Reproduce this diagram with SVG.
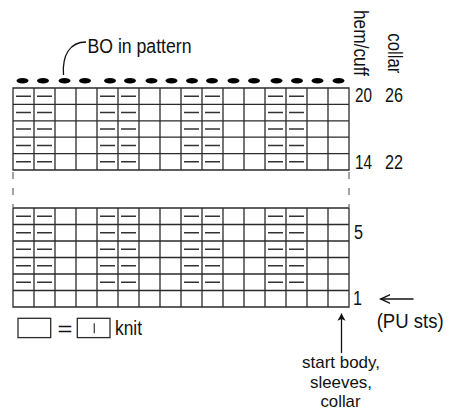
<svg xmlns="http://www.w3.org/2000/svg" width="452" height="410" viewBox="0 0 452 410">
<style>
.grid{fill:none;stroke:#2b2b2b;stroke-width:1.3}
.purl{fill:none;stroke:#333;stroke-width:1.5}
.brk{fill:none;stroke:#666;stroke-width:1.2;stroke-dasharray:7 9}
.bo{fill:#000}
text{font-family:"Liberation Sans",Arial,sans-serif;font-size:19.5px;fill:#111}
text.stack{font-size:17px}
.ln{fill:none;stroke:#111;stroke-width:1.3}
</style>
<defs>
<marker id="open" viewBox="0 0 10 10" refX="9" refY="5" markerWidth="11" markerHeight="11" markerUnits="userSpaceOnUse" orient="auto">
<path d="M0 1 L9 5 L0 9" fill="none" stroke="#111" stroke-width="1.3"/>
</marker>
<marker id="solid" viewBox="0 0 8 10" refX="8" refY="5" markerWidth="8" markerHeight="9" markerUnits="userSpaceOnUse" orient="auto">
<path d="M0 0.5 L8 5 L0 9.5 L2 5 Z" fill="#111"/>
</marker>
</defs>

<g id="chart-top">
<path class="grid" d="M13 88 H349 V170 H13 Z M13 104.4 H349 M13 120.8 H349 M13 137.2 H349 M13 153.6 H349 M34 88 V170 M55 88 V170 M76 88 V170 M97 88 V170 M118 88 V170 M139 88 V170 M160 88 V170 M181 88 V170 M202 88 V170 M223 88 V170 M244 88 V170 M265 88 V170 M286 88 V170 M307 88 V170 M328 88 V170"/>
<path class="purl" d="M16 96.2h15M37 96.2h15M100 96.2h15M121 96.2h15M184 96.2h15M205 96.2h15M268 96.2h15M289 96.2h15 M16 112.6h15M37 112.6h15M100 112.6h15M121 112.6h15M184 112.6h15M205 112.6h15M268 112.6h15M289 112.6h15 M16 129h15M37 129h15M100 129h15M121 129h15M184 129h15M205 129h15M268 129h15M289 129h15 M16 145.4h15M37 145.4h15M100 145.4h15M121 145.4h15M184 145.4h15M205 145.4h15M268 145.4h15M289 145.4h15 M16 161.8h15M37 161.8h15M100 161.8h15M121 161.8h15M184 161.8h15M205 161.8h15M268 161.8h15M289 161.8h15"/>
</g>

<g id="bind-off">
<ellipse class="bo" cx="22.5" cy="80.7" rx="6" ry="2.8"/>
<ellipse class="bo" cx="43" cy="80.7" rx="6" ry="2.8"/>
<ellipse class="bo" cx="64.5" cy="80.7" rx="6" ry="2.8"/>
<ellipse class="bo" cx="85" cy="80.7" rx="6" ry="2.8"/>
<ellipse class="bo" cx="110" cy="80.7" rx="6" ry="2.8"/>
<ellipse class="bo" cx="130" cy="80.7" rx="6" ry="2.8"/>
<ellipse class="bo" cx="151.5" cy="80.7" rx="6" ry="2.8"/>
<ellipse class="bo" cx="171.5" cy="80.7" rx="6" ry="2.8"/>
<ellipse class="bo" cx="192" cy="80.7" rx="6" ry="2.8"/>
<ellipse class="bo" cx="212" cy="80.7" rx="6" ry="2.8"/>
<ellipse class="bo" cx="233.5" cy="80.7" rx="6" ry="2.8"/>
<ellipse class="bo" cx="254" cy="80.7" rx="6" ry="2.8"/>
<ellipse class="bo" cx="276.5" cy="80.7" rx="6" ry="2.8"/>
<ellipse class="bo" cx="297" cy="80.7" rx="6" ry="2.8"/>
<ellipse class="bo" cx="317.5" cy="80.7" rx="6" ry="2.8"/>
<ellipse class="bo" cx="338.5" cy="80.7" rx="6" ry="2.8"/>
</g>

<g id="chart-bottom">
<path class="grid" d="M13 208 H349 V307 H13 Z M13 224.5 H349 M13 241 H349 M13 257.5 H349 M13 274 H349 M13 290.5 H349 M34 208 V307 M55 208 V307 M76 208 V307 M97 208 V307 M118 208 V307 M139 208 V307 M160 208 V307 M181 208 V307 M202 208 V307 M223 208 V307 M244 208 V307 M265 208 V307 M286 208 V307 M307 208 V307 M328 208 V307"/>
<path class="purl" d="M16 216.25h15M37 216.25h15M100 216.25h15M121 216.25h15M184 216.25h15M205 216.25h15M268 216.25h15M289 216.25h15 M16 232.75h15M37 232.75h15M100 232.75h15M121 232.75h15M184 232.75h15M205 232.75h15M268 232.75h15M289 232.75h15 M16 249.25h15M37 249.25h15M100 249.25h15M121 249.25h15M184 249.25h15M205 249.25h15M268 249.25h15M289 249.25h15 M16 265.75h15M37 265.75h15M100 265.75h15M121 265.75h15M184 265.75h15M205 265.75h15M268 265.75h15M289 265.75h15 M16 282.25h15M37 282.25h15M100 282.25h15M121 282.25h15M184 282.25h15M205 282.25h15M268 282.25h15M289 282.25h15"/>
</g>

<g id="break">
<path class="brk" d="M13 172 V207 M349 172 V207"/>
</g>

<g id="labels">
<text x="87.5" y="53.3" textLength="104" lengthAdjust="spacingAndGlyphs">BO in pattern</text>
<text transform="translate(354 10) rotate(90)" textLength="66" lengthAdjust="spacingAndGlyphs">hem/cuff</text>
<text transform="translate(388 33.3) rotate(90)" textLength="40" lengthAdjust="spacingAndGlyphs">collar</text>
<text x="355" y="102" textLength="17" lengthAdjust="spacingAndGlyphs">20</text>
<text x="385" y="102" textLength="18" lengthAdjust="spacingAndGlyphs">26</text>
<text x="355" y="169" textLength="17" lengthAdjust="spacingAndGlyphs">14</text>
<text x="385" y="169" textLength="18" lengthAdjust="spacingAndGlyphs">22</text>
<text x="354" y="238.5" textLength="9" lengthAdjust="spacingAndGlyphs">5</text>
<text x="353" y="305" textLength="9" lengthAdjust="spacingAndGlyphs">1</text>
<text x="376.7" y="328.3" textLength="67" lengthAdjust="spacingAndGlyphs">(PU sts)</text>
<text class="stack" x="341" y="368.2" text-anchor="middle" textLength="78" lengthAdjust="spacingAndGlyphs">start body,</text>
<text class="stack" x="341" y="387.5" text-anchor="middle" textLength="62" lengthAdjust="spacingAndGlyphs">sleeves,</text>
<text class="stack" x="340.5" y="406.8" text-anchor="middle" textLength="40" lengthAdjust="spacingAndGlyphs">collar</text>
</g>

<g id="legend">
<rect class="grid" x="18" y="318.3" width="32.7" height="19.3"/>
<text x="57.5" y="335.5" textLength="15" lengthAdjust="spacingAndGlyphs">=</text>
<rect class="grid" x="77.3" y="318.3" width="32.7" height="19.3"/>
<path d="M94.3 323.3 V333.3" stroke="#444" stroke-width="1.3"/>
<text x="115" y="335" textLength="27" lengthAdjust="spacingAndGlyphs">knit</text>
</g>

<g id="connectors">
<path class="ln" d="M86 42 C70 42 62 55 63.5 75"/>
<path class="ln" d="M413.5 299 H380.5" marker-end="url(#open)"/>
<path class="ln" d="M341.5 353 V313.5" marker-end="url(#solid)"/>
</g>
</svg>
